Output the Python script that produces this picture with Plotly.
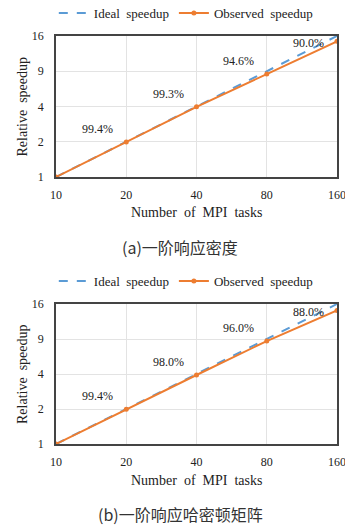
import math
import plotly.graph_objects as go

# MPI task counts and speedups
tasks = [10, 20, 40, 80, 160]
ideal = [1, 2, 4, 8, 16]
eff_a = [100.0, 99.4, 99.3, 94.6, 90.0]   # parallel efficiency (%), first-order response density
eff_b = [100.0, 99.4, 98.0, 96.0, 88.0]   # parallel efficiency (%), first-order response Hamiltonian
observed_a = [i * e / 100 for i, e in zip(ideal, eff_a)]
observed_b = [i * e / 100 for i, e in zip(ideal, eff_b)]

y_tickvals = [1, 2, 4, 8, 16]
y_ticktext = ["1", "2", "4", "9", "16"]
x_tickvals = tasks
x_ticktext = ["10", "20", "40", "80", "160"]

captions = ["(a)一阶响应密度", "(b)一阶响应哈密顿矩阵"]

W, H = 345, 526
BLUE = "#5B9BD5"
ORANGE = "#ED7D31"
SERIF = "Liberation Serif"
CJK = "Noto Sans CJK SC"

# panel geometry in pixels: (top, bottom)
panels = [(36, 177), (304, 444)]
left_px, right_px = 56, 337

fig = go.Figure()
layout = dict(
    width=W, height=H,
    margin=dict(l=0, r=0, t=0, b=0, autoexpand=False),
    paper_bgcolor="white", plot_bgcolor="white",
    font=dict(family=SERIF, size=12, color="#222"),
    annotations=[],
)

for k, (obs, eff) in enumerate([(observed_a, eff_a), (observed_b, eff_b)]):
    sfx = "" if k == 0 else str(k + 1)
    xa, ya = "x" + sfx, "y" + sfx
    leg = "legend" + sfx
    fig.add_trace(go.Scatter(
        x=tasks, y=ideal, mode="lines", name="Ideal  speedup",
        line=dict(color=BLUE, width=2, dash="dash"),
        xaxis=xa, yaxis=ya, legend=leg,
    ))
    fig.add_trace(go.Scatter(
        x=tasks, y=obs, mode="lines+markers", name="Observed  speedup",
        line=dict(color=ORANGE, width=2),
        marker=dict(color=ORANGE, size=5),
        xaxis=xa, yaxis=ya, legend=leg,
    ))
    top, bot = panels[k]
    axis_common = dict(
        showline=True, linecolor="#444", linewidth=1.5, mirror=True,
        showgrid=True, gridcolor="#e3e3e3", gridwidth=1,
        ticks="", zeroline=False, ticklabeloverflow="allow", automargin=False,
        tickfont=dict(family=SERIF, size=12, color="#222"),
    )
    layout["xaxis" + sfx] = dict(
        axis_common, type="log", range=[0.99999, math.log10(160) + 0.00002],
        tickvals=x_tickvals, ticktext=x_ticktext,
        domain=[left_px / W, right_px / W],
        anchor=ya, ticklabelstandoff=6,
    )
    layout["yaxis" + sfx] = dict(
        axis_common, type="log", range=[-0.00001, math.log10(16) + 0.00002],
        tickvals=y_tickvals, ticktext=y_ticktext,
        domain=[1 - bot / H, 1 - top / H],
        anchor=xa, ticklabelstandoff=8,
    )
    layout[leg] = dict(
        orientation="h", x=0.54, xanchor="center",
        y=1 - (top - 23) / H, yanchor="middle",
        font=dict(family=SERIF, size=13, color="#222"),
        bgcolor="rgba(0,0,0,0)", itemwidth=30, tracegroupgap=0,
    )
    # efficiency labels next to each scaled point (log axes take log10 positions)
    for t, s, e in zip(tasks[1:], obs[1:], eff[1:]):
        last = t == tasks[-1]
        layout["annotations"].append(dict(
            x=math.log10(t), y=math.log10(s), xref=xa, yref=ya, text=f"{e:.1f}%",
            showarrow=False, xanchor="right", yanchor="bottom",
            xshift=-11 if not last else -11, yshift=4 if not last else -11,
            font=dict(family=SERIF, size=12, color="#222"),
        ))
    # axis titles and caption
    layout["annotations"].append(dict(
        x=(left_px + right_px) / 2 / W, y=1 - (bot + 36) / H,
        xref="paper", yref="paper", text="Number  of  MPI  tasks",
        showarrow=False, xanchor="center", yanchor="middle",
        font=dict(family=SERIF, size=14, color="#222"),
    ))
    layout["annotations"].append(dict(
        x=22 / W, y=1 - (top + bot) / 2 / H,
        xref="paper", yref="paper", text="Relative  speedup",
        showarrow=False, textangle=-90, xanchor="center", yanchor="middle",
        font=dict(family=SERIF, size=14, color="#222"),
    ))
    layout["annotations"].append(dict(
        x=180 / W, y=1 - (bot + 70) / H,
        xref="paper", yref="paper", text=captions[k],
        showarrow=False, xanchor="center", yanchor="middle",
        font=dict(family=CJK, size=16, color="#333"),
    ))

fig.update_layout(**layout)
fig.write_html("out.html")
